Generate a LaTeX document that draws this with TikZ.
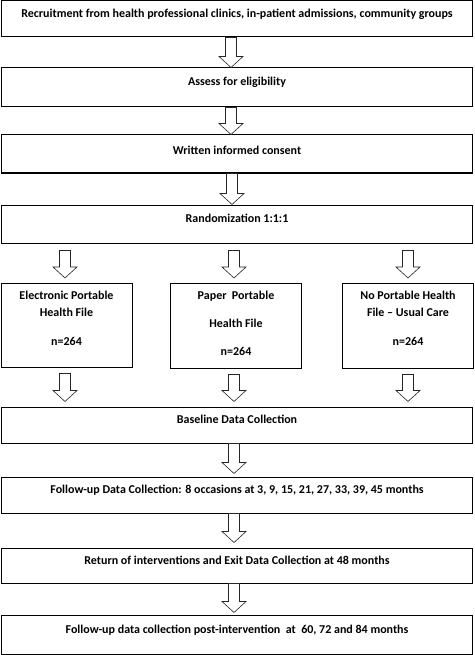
\documentclass[tikz,border=0pt]{standalone}
\usepackage{fontspec}
\setmainfont{Carlito}
\usetikzlibrary{calc}
\tikzset{
  box/.style={draw=black, line width=1pt, fill=white, inner xsep=0pt, inner ysep=0pt,
    font=\bfseries\fontsize{12}{14}\selectfont, anchor=base},
  wide/.style={box, minimum width=471pt},
  narrow/.style={box, minimum width=131pt},
  arr/.style={draw=black!85, line width=0.6pt, fill=white, line join=miter}
}
\newcommand\blockarrow[5]{%
  \draw[arr] let \p1=(#1.south), \p2=(#2.north) in
  ({#3pt-5.5pt},{\y1-#4pt}) -- ({#3pt-5.5pt},{\y2+#5pt+11pt}) -- ({#3pt-12pt},{\y2+#5pt+11pt})
  -- (#3pt,{\y2+#5pt}) -- ({#3pt+12pt},{\y2+#5pt+11pt}) -- ({#3pt+5.5pt},{\y2+#5pt+11pt})
  -- ({#3pt+5.5pt},{\y1-#4pt}) -- cycle;}
\begin{document}
\begin{tikzpicture}[x=1pt,y=-1pt]
\useasboundingbox (0,0) rectangle (474,655);
% main boxes
\node[wide, text height=17pt, text depth=19pt] (b1) at (237,18)
  {Recruitment from health professional clinics, in-patient admissions, community groups};
\node[wide, text height=18pt, text depth=21pt] (b2) at (237,86) {Assess for eligibility};
\node[wide, text height=19pt, text depth=19pt] (b3) at (237,154) {Written informed consent};
\node[wide, text height=17pt, text depth=21pt] (b4) at (237,222) {Randomization 1:1:1};
% three arms
\node[narrow, text height=16pt, text depth=68pt] (a1) at (66.5,299)
  {\begin{tabular}[t]{@{}c@{}}Electronic Portable\\[3pt] Health File\\[15pt] n=264\end{tabular}};
\node[narrow, text height=16pt, text depth=69pt] (a2) at (236,299)
  {\begin{tabular}[t]{@{}c@{}}Paper\ \ Portable\\[14pt] Health File\\[14pt] n=264\end{tabular}};
\node[narrow, text height=16pt, text depth=69pt] (a3) at (408,299)
  {\begin{tabular}[t]{@{}c@{}}No Portable Health\\[3pt] File -- Usual Care\\[15pt] n=264\end{tabular}};
% lower boxes
\node[wide, text height=16pt, text depth=20pt] (b5) at (237,423) {Baseline Data Collection};
\node[wide, text height=16pt, text depth=20pt] (b6) at (237,493)
  {Follow-up Data Collection: 8 occasions at 3, 9, 15, 21, 27, 33, 39, 45 months};
\node[wide, text height=16pt, text depth=19pt] (b7) at (237,564)
  {Return of interventions and Exit Data Collection at 48 months};
\node[wide, text height=18pt, text depth=21pt] (b8) at (237,633)
  {Follow-up data collection post-intervention\ \ at\ \ 60, 72 and 84 months};
% arrows
\blockarrow{b1}{b2}{231}{0}{0}
\blockarrow{b2}{b3}{231}{0}{0}
\blockarrow{b3}{b4}{232}{0}{0}
\blockarrow{b4}{a1}{65}{7}{4.5}
\blockarrow{b4}{a2}{234}{7}{4.5}
\blockarrow{b4}{a3}{408}{7}{4.5}
\blockarrow{a1}{b5}{65}{6}{5}
\blockarrow{a2}{b5}{234}{6}{5}
\blockarrow{a3}{b5}{408}{6}{5}
\blockarrow{b5}{b6}{234}{0}{3}
\blockarrow{b6}{b7}{234}{0}{5}
\blockarrow{b7}{b8}{234}{0}{2}
\end{tikzpicture}
\end{document}
